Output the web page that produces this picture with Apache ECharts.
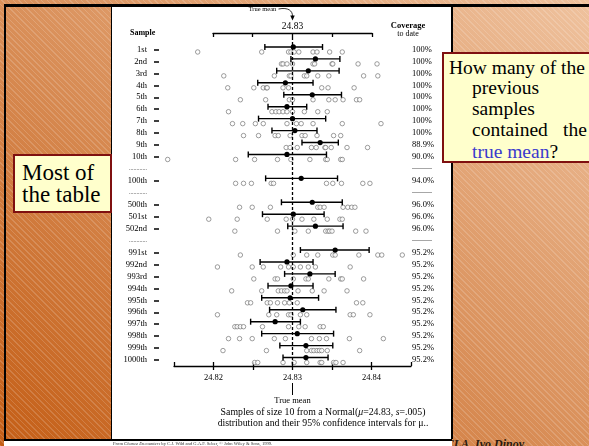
<!DOCTYPE html>
<html>
<head>
<meta charset="utf-8">
<script src="https://cdn.jsdelivr.net/npm/echarts@6.0.0/dist/echarts.min.js"></script>
<style>
  html, body { margin: 0; width: 589px; height: 446px; overflow: hidden; }
  body {
    position: relative;
    background:
      repeating-linear-gradient(45deg, rgba(255,255,255,0.16) 0 1px, rgba(255,255,255,0) 1px 4px),
      linear-gradient(to bottom left, #efc29e, #c45e16);
    font-family: 'Liberation Serif', 'Times New Roman', serif;
  }
  #topbar { position: absolute; left: 4px; top: 4px; right: 0; height: 3px; background: #000; }
  #leftbar { position: absolute; left: 4px; top: 4px; bottom: 0; width: 2px; background: #000; }
  #panel { position: absolute; left: 111px; top: 7px; width: 339px; height: 432px; background: #fff;
           border-left: 1px solid #000; border-right: 2px solid #000; }
  #sign { position: absolute; left: 437px; top: 438px; font: italic bold 12px/12px 'Liberation Serif', serif; color: #2a1a10; }
  #footer { position: absolute; left: 4px; top: 439px; width: 448px; height: 7px; background: #fff; border-top: 2px solid #000; box-sizing: border-box; }
  #chart { position: absolute; left: 0; top: 0; width: 589px; height: 446px; z-index: 2; }
  .note { position: absolute; z-index: 3; background: #ffffcc; border: 2px solid #7f1010; box-sizing: border-box; color: #000; }
  #leftNote { left: 13px; top: 154px; width: 99px; height: 59px; font-size: 23px; line-height: 22px; padding: 6px 0 0 7px; }
  #rightNote { left: 442px; top: 52px; width: 160px; height: 111px; font-size: 19.5px; line-height: 21px; }
  #rightNote span { position: absolute; white-space: nowrap; }
  .blue { color: #3a3acc; }
</style>
</head>
<body>
<div id="topbar"></div>
<div id="leftbar"></div>
<div id="panel"></div>
<div id="sign">UCLA, Ivo Dinov</div>
<div id="footer"></div>
<div id="chart"></div>
<div class="note" id="leftNote">Most of<br>the table</div>
<div class="note" id="rightNote">
  <span style="left:5px;top:3px">How many of the</span>
  <span style="left:28px;top:23px">previous</span>
  <span style="left:28px;top:44px">samples</span>
  <span style="left:28px;top:65px">contained</span>
  <span style="left:119px;top:65px">the</span>
  <span style="left:28px;top:87px"><span class="blue" style="position:static">true mean</span>?</span>
</div>
<script>
const FONT = "'Liberation Serif', 'Times New Roman', serif";
const trueMean = 24.83;

// row categories, 'sep' rows are the dotted breaks in the table
const categories = ['1st', '2nd', '3rd', '4th', '5th', '6th', '7th', '8th', '9th', '10th', 'sep1',
  '100th', 'sep2', '500th', '501st', '502nd', 'sep3',
  '991st', '992nd', '993rd', '994th', '995th', '996th', '997th', '998th', '999th', '1000th'];
const coverage = [100, 100, 100, 100, 100, 100, 100, 100, 88.9, 90.0, null,
  94.0, null, 96.0, 96.0, 96.0, null,
  95.2, 95.2, 95.2, 95.2, 95.2, 95.2, 95.2, 95.2, 95.2, 95.2];

const rowNames = ['1st', '2nd', '3rd', '4th', '5th', '6th', '7th', '8th', '9th', '10th',
  '100th', '500th', '501st', '502nd',
  '991st', '992nd', '993rd', '994th', '995th', '996th', '997th', '998th', '999th', '1000th'];

const sampleValues = [
  [24.8180, 24.8261, 24.8295, 24.8298, 24.8302, 24.8308, 24.8326, 24.8331, 24.8347, 24.8363],
  [24.8286, 24.8288, 24.8293, 24.8300, 24.8326, 24.8328, 24.8350, 24.8351, 24.8383, 24.8407],
  [24.8213, 24.8277, 24.8296, 24.8298, 24.8315, 24.8318, 24.8332, 24.8346, 24.8390, 24.8408],
  [24.8218, 24.8251, 24.8263, 24.8267, 24.8268, 24.8288, 24.8295, 24.8337, 24.8345, 24.8378],
  [24.8234, 24.8266, 24.8296, 24.8300, 24.8326, 24.8346, 24.8354, 24.8364, 24.8381, 24.8385],
  [24.8219, 24.8274, 24.8279, 24.8283, 24.8288, 24.8293, 24.8300, 24.8315, 24.8332, 24.8344],
  [24.8224, 24.8237, 24.8253, 24.8263, 24.8293, 24.8305, 24.8311, 24.8326, 24.8363, 24.8412],
  [24.8238, 24.8257, 24.8278, 24.8282, 24.8297, 24.8312, 24.8316, 24.8331, 24.8352, 24.8361],
  [24.8292, 24.8297, 24.8306, 24.8324, 24.8330, 24.8341, 24.8342, 24.8349, 24.8369, 24.8395],
  [24.8142, 24.8228, 24.8252, 24.8281, 24.8298, 24.8322, 24.8342, 24.8344, 24.8361, 24.8363],
  [24.8228, 24.8238, 24.8248, 24.8273, 24.8276, 24.8343, 24.8351, 24.8362, 24.8389, 24.8398],
  [24.8233, 24.8249, 24.8272, 24.8332, 24.8335, 24.8340, 24.8364, 24.8370, 24.8375, 24.8379],
  [24.8194, 24.8230, 24.8268, 24.8292, 24.8300, 24.8312, 24.8327, 24.8344, 24.8360, 24.8363],
  [24.8227, 24.8281, 24.8303, 24.8320, 24.8342, 24.8345, 24.8347, 24.8350, 24.8380, 24.8393],
  [24.8234, 24.8301, 24.8318, 24.8332, 24.8351, 24.8354, 24.8384, 24.8408, 24.8413, 24.8439],
  [24.8205, 24.8249, 24.8263, 24.8285, 24.8295, 24.8301, 24.8310, 24.8320, 24.8329, 24.8373],
  [24.8251, 24.8278, 24.8281, 24.8301, 24.8317, 24.8320, 24.8346, 24.8361, 24.8363, 24.8390],
  [24.8223, 24.8261, 24.8282, 24.8286, 24.8290, 24.8293, 24.8307, 24.8325, 24.8340, 24.8369],
  [24.8243, 24.8247, 24.8268, 24.8272, 24.8281, 24.8290, 24.8296, 24.8306, 24.8381, 24.8389],
  [24.8205, 24.8270, 24.8280, 24.8295, 24.8298, 24.8310, 24.8318, 24.8373, 24.8377, 24.8398],
  [24.8227, 24.8230, 24.8234, 24.8238, 24.8262, 24.8295, 24.8308, 24.8316, 24.8335, 24.8339],
  [24.8219, 24.8233, 24.8249, 24.8277, 24.8291, 24.8324, 24.8334, 24.8343, 24.8372, 24.8415],
  [24.8212, 24.8267, 24.8318, 24.8324, 24.8327, 24.8331, 24.8334, 24.8337, 24.8344, 24.8385],
  [24.8252, 24.8256, 24.8288, 24.8302, 24.8318, 24.8335, 24.8337, 24.8352, 24.8355, 24.8364]
];
const means = [24.8301, 24.8329, 24.8320, 24.8291, 24.8325, 24.8293, 24.8300, 24.8303, 24.8335, 24.8293,
  24.8311, 24.8325, 24.8301, 24.8329,
  24.8354, 24.8293, 24.8322, 24.8298, 24.8297, 24.8313, 24.8278, 24.8306, 24.8317, 24.8317];
const ciLow = [24.8265, 24.8298, 24.8280, 24.8256, 24.8289, 24.8269, 24.8257, 24.8274, 24.8312, 24.8244,
  24.8266, 24.8286, 24.8262, 24.8294,
  24.8310, 24.8259, 24.8290, 24.8269, 24.8261, 24.8271, 24.8247, 24.8261, 24.8284, 24.8288];
const ciHigh = [24.8338, 24.8360, 24.8359, 24.8326, 24.8362, 24.8318, 24.8342, 24.8331, 24.8358, 24.8343,
  24.8357, 24.8363, 24.8340, 24.8364,
  24.8397, 24.8326, 24.8354, 24.8326, 24.8333, 24.8355, 24.8310, 24.8352, 24.8351, 24.8345];

const bottomLabels = [24.82, 24.83, 24.84];
const bottomMajorTicks = [24.82, 24.825, 24.83, 24.835, 24.84];

const points = [];
rowNames.forEach((name, i) => sampleValues[i].forEach(v => points.push([v, name])));
const intervals = rowNames.map((name, i) => [ciLow[i], ciHigh[i], means[i], name]);

const chart = echarts.init(document.getElementById('chart'));
const txt = { fontFamily: FONT, color: '#000' };

chart.setOption({
  animation: false,
  grid: [
    { left: 174, right: 178, top: 43.5, bottom: 80, outerBoundsMode: 'none' },
    { left: 213, width: 159, top: 33, height: 1, outerBoundsMode: 'none' }
  ],
  xAxis: [
    {
      gridIndex: 0, type: 'value', position: 'bottom', min: 24.815, max: 24.845, interval: 0.005,
      axisLine: { show: true, onZero: false, lineStyle: { color: '#000', width: 1.3 } },
      axisTick: { show: true, inside: true, length: 4, lineStyle: { color: '#000', width: 1.3 } },
      axisLabel: { show: false },
      splitLine: { show: false }
    },
    {
      gridIndex: 0, type: 'value', position: 'bottom', min: 24.815, max: 24.845,
      axisLine: { show: false, onZero: false },
      axisTick: { show: true, customValues: bottomMajorTicks, length: 4, lineStyle: { color: '#000', width: 1.3 } },
      axisLabel: { customValues: bottomLabels, formatter: v => v.toFixed(2), margin: 7, fontSize: 8.5, ...txt },
      splitLine: { show: false }
    },
    {
      gridIndex: 1, type: 'value', position: 'top', min: 24.82, max: 24.84, interval: 0.005,
      axisLine: { show: true, onZero: false, lineStyle: { color: '#000', width: 1.3 } },
      axisTick: { show: true, inside: true, length: 4, lineStyle: { color: '#000', width: 1.3 } },
      axisLabel: { customValues: [trueMean], formatter: v => v.toFixed(2), margin: 2, fontSize: 9.5, ...txt },
      splitLine: { show: false }
    }
  ],
  yAxis: [
    {
      gridIndex: 0, type: 'category', data: categories, inverse: true, offset: 15,
      axisLine: { show: false },
      axisTick: {
        show: true, alignWithLabel: true, length: 5,
        interval: (i, v) => !String(v).startsWith('sep'),
        lineStyle: { color: '#000', width: 1.5 }
      },
      axisLabel: {
        interval: 0, margin: 12, fontSize: 8.5, ...txt,
        formatter: v => v.startsWith('sep') ? '{s|............}' : v,
        rich: { s: { fontSize: 6, color: '#555', fontFamily: FONT } }
      }
    },
    {
      gridIndex: 0, type: 'category', data: categories, inverse: true, position: 'right',
      axisLine: { show: false }, axisTick: { show: false },
      axisLabel: {
        interval: 0, margin: 1, fontSize: 8.5, ...txt,
        formatter: v => {
          const c = coverage[categories.indexOf(v)];
          if (c == null) return '{s|----------}';
          return c === 100 ? '100%' : c.toFixed(1) + '%';
        },
        rich: { s: { fontSize: 6, color: '#222', fontFamily: FONT } }
      }
    },
    { gridIndex: 1, type: 'value', show: false }
  ],
  series: [
    {
      type: 'scatter', xAxisIndex: 0, yAxisIndex: 0,
      data: points, clip: false,
      symbol: 'circle', symbolSize: 4.5, symbolOffset: [0, 2.5],
      itemStyle: { color: '#fff', borderColor: '#666', borderWidth: 0.8 },
      z: 3
    },
    {
      type: 'custom', xAxisIndex: 0, yAxisIndex: 0,
      data: intervals,
      encode: { x: [0, 1, 2], y: 3 },
      z: 4,
      renderItem: (params, api) => {
        const lo = api.coord([api.value(0), api.value(3)]);
        const hi = api.coord([api.value(1), api.value(3)]);
        const mid = api.coord([api.value(2), api.value(3)]);
        const y = lo[1] - 2.5;
        const st = { stroke: '#000', lineWidth: 1.4 };
        return {
          type: 'group',
          children: [
            { type: 'line', shape: { x1: lo[0], y1: y, x2: hi[0], y2: y }, style: st },
            { type: 'line', shape: { x1: lo[0], y1: y - 3, x2: lo[0], y2: y + 3 }, style: st },
            { type: 'line', shape: { x1: hi[0], y1: y - 3, x2: hi[0], y2: y + 3 }, style: st },
            { type: 'circle', shape: { cx: mid[0], cy: y, r: 2.6 }, style: { fill: '#000' } }
          ]
        };
      }
    }
  ]
});

const mx = chart.convertToPixel({ xAxisIndex: 0 }, trueMean);
chart.setOption({
  graphic: [
    { type: 'line', z: 5, shape: { x1: mx, y1: 37, x2: mx, y2: 366 },
      style: { stroke: '#000', lineWidth: 1.3, lineDash: [3, 2] } },
    { type: 'text', x: mx - 30, y: 9, style: { text: 'True mean', fontSize: 6.5, fontFamily: FONT, fill: '#000', align: 'center', verticalAlign: 'middle' } },
    { type: 'bezierCurve', shape: { x1: mx - 14, y1: 9, cpx1: mx - 4, cpy1: 7, cpx2: mx, cpy2: 11, x2: mx, y2: 16 },
      style: { stroke: '#000', lineWidth: 0.8, fill: null } },
    { type: 'polygon', shape: { points: [[mx - 2.2, 15.5], [mx + 2.2, 15.5], [mx, 20.5]] }, style: { fill: '#000' } },
    { type: 'line', shape: { x1: mx, y1: 383, x2: mx, y2: 395 }, style: { stroke: '#000', lineWidth: 1 } },
    { type: 'text', x: mx, y: 401, style: { text: 'True mean', fontSize: 8.5, fontFamily: FONT, fill: '#000', align: 'center', verticalAlign: 'middle' } },
    { type: 'text', left: 130, top: 29, style: { text: 'Sample', fontSize: 8, fontWeight: 'bold', fontFamily: FONT, fill: '#000' } },
    { type: 'text', x: 408, y: 26, style: { text: 'Coverage', fontSize: 8.5, fontWeight: 'bold', fontFamily: FONT, fill: '#000', align: 'center', verticalAlign: 'middle' } },
    { type: 'text', x: 408, y: 34, style: { text: 'to date', fontSize: 8, fontFamily: FONT, fill: '#000', align: 'center', verticalAlign: 'middle' } },
    { type: 'text', x: 323, y: 412, style: {
        text: 'Samples of size 10 from a Normal({i|μ}=24.83, {i|s}=.005)',
        rich: { i: { fontStyle: 'italic', fontSize: 9.8, fontFamily: FONT } },
        fontSize: 9.8, fontFamily: FONT, fill: '#000', align: 'center', verticalAlign: 'middle' } },
    { type: 'text', x: 323, y: 423, style: {
        text: 'distribution and their 95% confidence intervals for μ..',
        fontSize: 9.8, fontFamily: FONT, fill: '#000', align: 'center', verticalAlign: 'middle' } },
    { type: 'text', x: 113, y: 443.5, style: {
        text: 'From {i|Chance Encounters} by C.J. Wild and G.A.F. Seber, © John Wiley & Sons, 1999.',
        rich: { i: { fontStyle: 'italic', fontSize: 4.6, fontFamily: FONT, fill: '#333' } },
        fontSize: 4.6, fontFamily: FONT, fill: '#333', verticalAlign: 'middle' } }
  ]
});
</script>
</body>
</html>
